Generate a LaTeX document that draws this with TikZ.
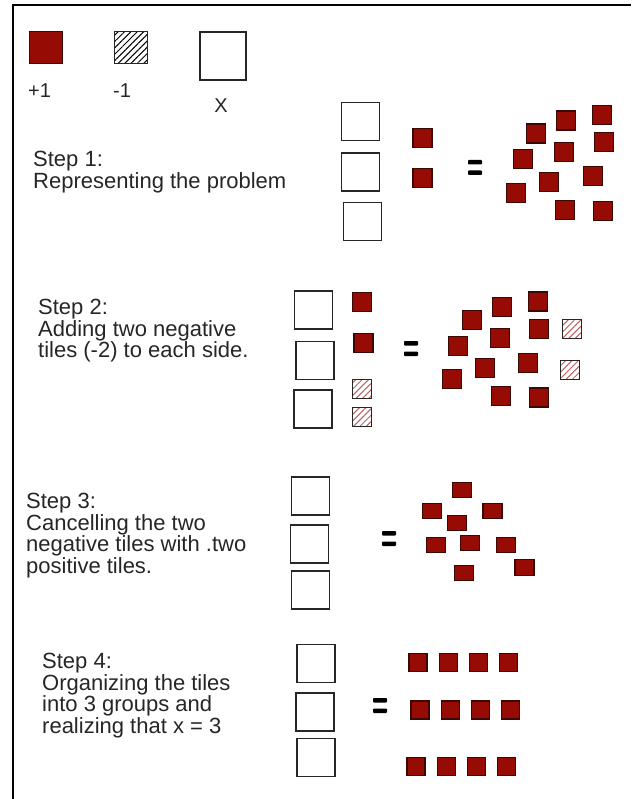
\documentclass[tikz,border=0pt]{standalone}
\usepackage{fontspec}
\setmainfont{Liberation Sans}
\usetikzlibrary{positioning, patterns.meta}
\definecolor{tilered}{RGB}{150,12,4}
\definecolor{tileedge}{RGB}{60,8,4}
\definecolor{hatchred}{RGB}{185,95,95}

\begin{document}
\begin{tikzpicture}[x=1pt, y=-1pt,
    xtile/.style={draw=black!85, line width=1.6pt, fill=white, minimum width=38pt, minimum height=38pt, inner sep=0pt},
    ptile/.style={draw=tileedge, line width=1.1pt, fill=tilered, minimum width=19pt, minimum height=19pt, inner sep=0pt},
    ntile/.style={draw=black!85, line width=1.1pt, pattern={Lines[angle=45, distance=4.5pt, line width=1pt]}, pattern color=hatchred, minimum width=19pt, minimum height=19pt, inner sep=0pt},
    eqsign/.style={draw=none, minimum width=14pt, minimum height=15pt, inner sep=0pt,
      path picture={
        \fill[black, rounded corners=0.8pt] (path picture bounding box.north west) rectangle ([yshift=-4.5pt]path picture bounding box.north east);
        \fill[black, rounded corners=0.8pt] (path picture bounding box.south west) rectangle ([yshift=4.5pt]path picture bounding box.south east);
      }},
    legtext/.style={anchor=base west, inner sep=0pt, font=\fontsize{20}{20}\selectfont, text=black!85},
    steptext/.style={anchor=base west, inner sep=0pt, align=left, font=\fontsize{22}{21.5}\selectfont, text=black!85}
  ]
  \useasboundingbox (0,0) rectangle (631,799);
  \draw[line width=2pt] (13,799) -- (13,5) -- (631,5);

  % legend
  \node[ptile, minimum width=33pt, minimum height=32pt] (lpos) at (46,47.5) {};
  \node[ntile, minimum width=33pt, minimum height=32pt, pattern color=black] (lneg) at (131,47.5) {};
  \node[xtile, minimum width=46pt, minimum height=48pt] (lx) at (223,56) {};
  \node[legtext] (lposlbl) at (28,98) {+1};
  \node[legtext] (lneglbl) at (113,98) {-1};
  \node[legtext, anchor=base] (lxlbl) at (221,113) {X};

  % step 1 (anchored on the baseline of the last line)
  \node[steptext] (step1) at (33,188.5) {Step 1:\\Representing the problem};
  \foreach \n/\x/\y in {1/360.5/121.5, 2/360.5/172, 3/362.5/221.5}
    \node[xtile] (s1x\n) at (\x,\y) {};
  \foreach \n/\x/\y in {1/422.5/138, 2/422.5/178}
    \node[ptile] (s1p\n) at (\x,\y) {};
  \node[eqsign] (s1eq) at (475,167.5) {};
  \foreach \n/\x/\y in {1/566/120.5, 2/602/115, 3/536/133.5, 4/604/142, 5/564/152, 6/523/159,
                        7/593/176, 8/549/182, 9/516/193, 10/565/210, 11/603/211}
    \node[ptile] (s1r\n) at (\x,\y) {};

  % step 2
  \node[steptext] (step2) at (38,357.7) {Step 2:\\Adding two negative\\tiles (-2) to each side.};
  \foreach \n/\x/\y in {1/313.5/310, 2/315/360.5, 3/313/409}
    \node[xtile] (s2x\n) at (\x,\y) {};
  \foreach \n/\x/\y in {1/362/302, 2/363.5/343}
    \node[ptile] (s2p\n) at (\x,\y) {};
  \foreach \n/\x/\y in {1/362/389, 2/362/417}
    \node[ntile] (s2n\n) at (\x,\y) {};
  \node[eqsign] (s2eq) at (411,348.5) {};
  \foreach \n/\x/\y in {1/502/307, 2/538/301.5, 3/472/320, 4/539/329, 5/500/338, 6/458/346,
                        7/528/363, 8/485/368, 9/452/379, 10/501/396, 11/539/397.5}
    \node[ptile] (s2r\n) at (\x,\y) {};
  \foreach \n/\x/\y in {1/572/329, 2/570/370}
    \node[ntile] (s2rn\n) at (\x,\y) {};

  % step 3
  \node[steptext] (step3) at (26,573) {Step 3:\\Cancelling the two\\negative tiles with .two\\positive tiles.};
  \foreach \n/\x/\y in {1/310.5/496, 2/309.5/544, 3/310.5/590}
    \node[xtile] (s3x\n) at (\x,\y) {};
  \node[eqsign] (s3eq) at (389,538.5) {};
  \foreach \n/\x/\y in {1/462/490, 2/432/511, 3/492.5/511, 4/457/523, 5/436/545,
                        6/470/543, 7/506/545, 8/464/573, 9/524.5/567.5}
    \node[ptile, minimum height=15.5pt] (s3r\n) at (\x,\y) {};

  % step 4
  \node[steptext] (step4) at (42,733) {Step 4:\\Organizing the tiles\\into 3 groups and\\realizing that x = 3};
  \foreach \n/\x/\y in {1/316/663.5, 2/315/712, 3/316/757.5}
    \node[xtile] (s4x\n) at (\x,\y) {};
  \node[eqsign] (s4eq) at (380,705.5) {};
  \foreach \r/\x/\y in {1/418/662.5, 2/420/710, 3/416/766.5}
    \foreach \c in {1,...,4}
      \node[ptile, minimum width=18pt, minimum height=18pt] (s4r\r c\c) at ({\x+30.3*(\c-1)},\y) {};
\end{tikzpicture}
\end{document}
